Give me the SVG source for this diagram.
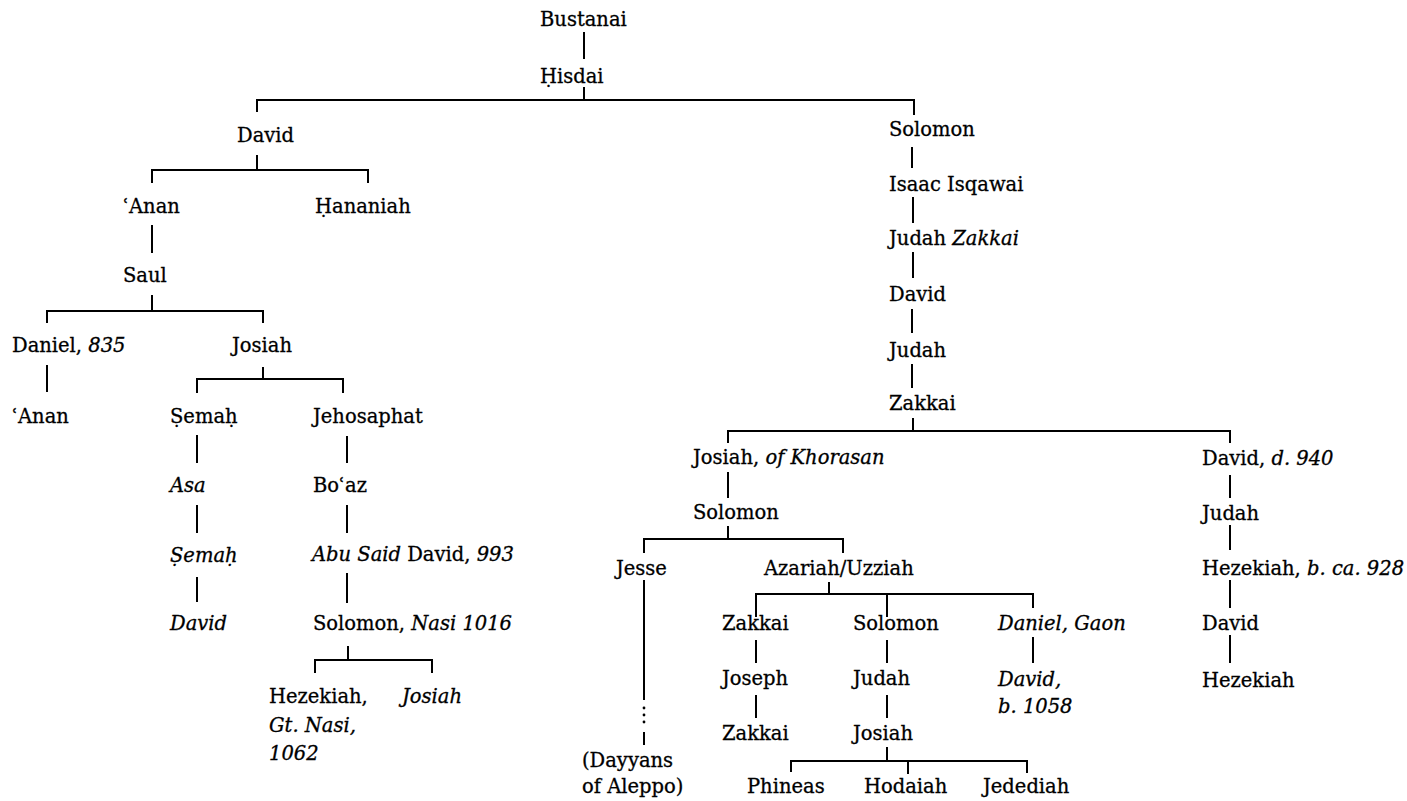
<svg xmlns="http://www.w3.org/2000/svg" width="1407" height="801" viewBox="0 0 1407 801">
<style>
.t{font-family:"DejaVu Serif","Liberation Serif",serif;font-size:19.5px;fill:#000;stroke:#000;stroke-width:0.3}
.i{font-style:italic}
.c{stroke:#000;stroke-width:2;fill:none}
</style>
<rect width="1407" height="801" fill="#fff"/>
<g id="connectors" class="c">
<path d="M584,32V59"/>
<path d="M584,87V100M257,112V100H914V115"/>
<path d="M257,155V170M152,183V170H368V183"/>
<path d="M152,225V253"/>
<path d="M152,295V311M47,323V311H263V323"/>
<path d="M47,365V392"/>
<path d="M263,367V379M197,393V379H343V393"/>
<path d="M197,435V463M197,505V533M197,577V602"/>
<path d="M347,436V463M347,505V533M347,573V603"/>
<path d="M348,646V660M315,673V660H432V673"/>
<path d="M912,147V168M913,197V223M913,252V278M912,309V333M912,364V388"/>
<path d="M913,418V431M728,443V431H1230V443"/>
<path d="M728,472V498M728,526V539M644,553V539H843V553"/>
<path d="M644,580V700M644,732V745"/>
<path d="M829,582V594M756,617V594H1033V608M887,594V617"/>
<path d="M756,640V663M756,695V718M887,640V663M887,695V718M1033,637V663"/>
<path d="M887,747V761M791,772V761H1027V773M908,761V774"/>
<path d="M1230,475V498M1230,525V550M1230,580V608M1230,635V663"/>
<g fill="#000" stroke="none"><circle cx="644" cy="708" r="1.4"/><circle cx="644" cy="715" r="1.4"/><circle cx="644" cy="722" r="1.4"/></g>
</g>
<g id="n-bustanai"><text class="t" x="540" y="26">Bustanai</text></g>
<g id="n-hisdai"><text class="t" x="540" y="83">Ḥisdai</text></g>
<g id="n-david1"><text class="t" x="237" y="142">David</text></g>
<g id="n-anan1"><text class="t" x="123" y="213">ʿAnan</text></g>
<g id="n-hananiah"><text class="t" x="315" y="213">Ḥananiah</text></g>
<g id="n-saul"><text class="t" x="123" y="282">Saul</text></g>
<g id="n-daniel"><text class="t" x="12" y="352">Daniel, <tspan class="i">835</tspan></text></g>
<g id="n-josiah1"><text class="t" x="232" y="352">Josiah</text></g>
<g id="n-anan2"><text class="t" x="12" y="423">ʿAnan</text></g>
<g id="n-semah1"><text class="t" x="170" y="423">Ṣemaḥ</text></g>
<g id="n-jehosaphat"><text class="t" x="313" y="423">Jehosaphat</text></g>
<g id="n-asa"><text class="t i" x="170" y="492">Asa</text></g>
<g id="n-boaz"><text class="t" x="313" y="492">Boʿaz</text></g>
<g id="n-semah2"><text class="t i" x="170" y="562">Ṣemaḥ</text></g>
<g id="n-abusaid"><text class="t" x="312" y="561"><tspan class="i">Abu Said</tspan> David, <tspan class="i">993</tspan></text></g>
<g id="n-david2"><text class="t i" x="170" y="630">David</text></g>
<g id="n-solomon1"><text class="t" x="313" y="630">Solomon, <tspan class="i">Nasi 1016</tspan></text></g>
<g id="n-hezekiah1"><text class="t" x="269" y="703">Hezekiah,</text><text class="t i" x="269" y="732">Gt. Nasi,</text><text class="t i" x="269" y="760">1062</text></g>
<g id="n-josiah2"><text class="t i" x="402" y="703">Josiah</text></g>
<g id="n-solomon2"><text class="t" x="889" y="136">Solomon</text></g>
<g id="n-isaac"><text class="t" x="889" y="191">Isaac Isqawai</text></g>
<g id="n-judahz"><text class="t" x="889" y="245">Judah <tspan class="i">Zakkai</tspan></text></g>
<g id="n-david3"><text class="t" x="889" y="301">David</text></g>
<g id="n-judah1"><text class="t" x="889" y="357">Judah</text></g>
<g id="n-zakkai1"><text class="t" x="889" y="410">Zakkai</text></g>
<g id="n-josiahk"><text class="t" x="693" y="464">Josiah, <tspan class="i">of Khorasan</tspan></text></g>
<g id="n-david940"><text class="t" x="1202" y="465">David, <tspan class="i">d. 940</tspan></text></g>
<g id="n-solomon3"><text class="t" x="693" y="519">Solomon</text></g>
<g id="n-judah2"><text class="t" x="1202" y="520">Judah</text></g>
<g id="n-jesse"><text class="t" x="616" y="575">Jesse</text></g>
<g id="n-azariah"><text class="t" x="764" y="575">Azariah/Uzziah</text></g>
<g id="n-hezekiah2"><text class="t" x="1202" y="575">Hezekiah, <tspan class="i">b. ca. 928</tspan></text></g>
<g id="n-zakkai2"><text class="t" x="722" y="630">Zakkai</text></g>
<g id="n-solomon4"><text class="t" x="853" y="630">Solomon</text></g>
<g id="n-danielg"><text class="t i" x="998" y="630">Daniel, Gaon</text></g>
<g id="n-david4"><text class="t" x="1202" y="630">David</text></g>
<g id="n-joseph"><text class="t" x="722" y="685">Joseph</text></g>
<g id="n-judah3"><text class="t" x="853" y="685">Judah</text></g>
<g id="n-david1058"><text class="t i" x="998" y="686">David,</text><text class="t i" x="998" y="713">b. 1058</text></g>
<g id="n-hezekiah3"><text class="t" x="1202" y="687">Hezekiah</text></g>
<g id="n-zakkai3"><text class="t" x="722" y="740">Zakkai</text></g>
<g id="n-josiah3"><text class="t" x="853" y="740">Josiah</text></g>
<g id="n-dayyans"><text class="t" x="582" y="767">(Dayyans</text><text class="t" x="582" y="793">of Aleppo)</text></g>
<g id="n-phineas"><text class="t" x="747" y="793">Phineas</text></g>
<g id="n-hodaiah"><text class="t" x="864" y="793">Hodaiah</text></g>
<g id="n-jedediah"><text class="t" x="983" y="793">Jedediah</text></g>
</svg>
